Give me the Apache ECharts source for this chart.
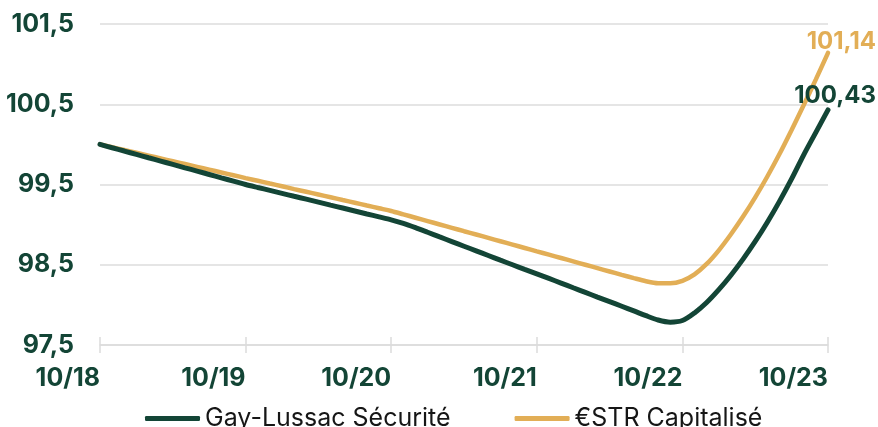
<!DOCTYPE html>
<html>
<head>
<meta charset="utf-8">
<script src="https://cdn.jsdelivr.net/npm/echarts@6/dist/echarts.min.js"></script>
<style>
html,body{margin:0;padding:0;background:#fff;}
#main{width:878px;height:427px;}
</style>
</head>
<body>
<div id="main"></div>
<script>
// mois de 10/18 à 10/23
var months = [];
for (var y = 18; y <= 23; y++) {
	for (var m = 1; m <= 12; m++) {
		if ((y == 18 && m < 10) || (y == 23 && m > 10)) continue;
		months.push(m + '/' + y);
	}
}
var seriesNames = ['Gay-Lussac Sécurité', '€STR Capitalisé'];
var gayLussac = [
	100.000, 99.958, 99.917, 99.875, 99.833, 99.792, 99.750, 99.708, 99.667, 99.625, 99.583, 99.542,
	99.500, 99.463, 99.427, 99.390, 99.353, 99.317, 99.280, 99.243, 99.207, 99.170, 99.133, 99.097,
	99.060, 99.015, 98.962, 98.905, 98.847, 98.789, 98.731, 98.673, 98.615, 98.557, 98.500, 98.443,
	98.387, 98.330, 98.272, 98.213, 98.155, 98.097, 98.040, 97.983, 97.925, 97.865, 97.812, 97.785,
	97.805, 97.900, 98.030, 98.190, 98.370, 98.570, 98.790, 99.030, 99.290, 99.570, 99.870, 100.150,
	100.430
];
var estr = [
	100.000, 99.965, 99.930, 99.895, 99.860, 99.825, 99.790, 99.755, 99.720, 99.685, 99.650, 99.615,
	99.580, 99.546, 99.512, 99.478, 99.443, 99.409, 99.375, 99.341, 99.307, 99.273, 99.238, 99.204,
	99.170, 99.128, 99.086, 99.044, 99.002, 98.960, 98.918, 98.877, 98.835, 98.793, 98.751, 98.709,
	98.667, 98.626, 98.584, 98.542, 98.500, 98.458, 98.416, 98.374, 98.333, 98.295, 98.270, 98.268,
	98.300, 98.380, 98.510, 98.680, 98.880, 99.100, 99.340, 99.600, 99.880, 100.180, 100.490, 100.810,
	101.140
];
var yMin = 97.5, yMax = 101.5, yStep = 1;

var green = '#134536';
var gold = '#e2ae56';
var gridGrey = '#dcdcdc';
var fontName = 'Inter';

function virgule(v, d) {
	return v.toFixed(d).replace('.', ',');
}

function lineSerie(name, data, color, width, labelDy) {
	return {
		name: name,
		type: 'line',
		data: data,
		showSymbol: false,
		smooth: 0.3,
		lineStyle: { color: color, width: width, cap: 'round' },
		itemStyle: { color: color },
		endLabel: {
			show: true,
			distance: 0,
			align: 'right',
			verticalAlign: 'bottom',
			offset: [48, labelDy],
			color: color,
			fontFamily: fontName,
			fontWeight: 'bold',
			fontSize: 24,
			formatter: function(p) { return virgule(p.value, 2); }
		},
		z: name == seriesNames[0] ? 3 : 2
	};
}

var myChart = echarts.init(document.getElementById('main'));
var option = {
	animation: false,
	grid: { left: 100, right: 50, top: 24, bottom: 82, containLabel: false },
	legend: {
		data: seriesNames,
		left: 140,
		top: 401,
		icon: 'roundRect',
		itemWidth: 55,
		itemHeight: 5,
		itemGap: 64,
		textStyle: { color: '#161616', fontFamily: fontName, fontSize: 25 }
	},
	xAxis: [{
		type: 'category',
		data: months,
		boundaryGap: false,
		axisLine: { lineStyle: { color: gridGrey, width: 1.5 } },
		axisTick: { show: true, interval: 11, length: 8, lineStyle: { color: gridGrey, width: 1.5 } },
		axisLabel: {
			interval: 11,
			align: 'right',
			margin: 21,
			color: green,
			fontFamily: fontName,
			fontWeight: 'bold',
			fontSize: 25,
			formatter: function(v) {
				var p = v.split('/');
				return (p[0].length < 2 ? '0' + p[0] : p[0]) + '/' + p[1];
			}
		},
		splitLine: { show: false }
	}, {
		// petits traits au-dessus de l'axe
		type: 'category',
		data: months,
		boundaryGap: false,
		position: 'bottom',
		axisLine: { show: false },
		axisTick: { show: true, inside: true, interval: 11, length: 8, lineStyle: { color: gridGrey, width: 1.5 } },
		axisLabel: { show: false },
		splitLine: { show: false }
	}],
	yAxis: {
		type: 'value',
		min: yMin,
		max: yMax,
		interval: yStep,
		axisLine: { show: false },
		axisTick: { show: false },
		axisLabel: {
			margin: 26,
			color: green,
			fontFamily: fontName,
			fontWeight: 'bold',
			fontSize: 25,
			formatter: function(v) { return virgule(v, 1); }
		},
		splitLine: { lineStyle: { color: gridGrey, width: 1.5 } }
	},
	series: [
		lineSerie(seriesNames[1], estr, gold, 4.5, 1),
		lineSerie(seriesNames[0], gayLussac, green, 5, -2)
	]
};
myChart.setOption(option);
</script>
</body>
</html>
